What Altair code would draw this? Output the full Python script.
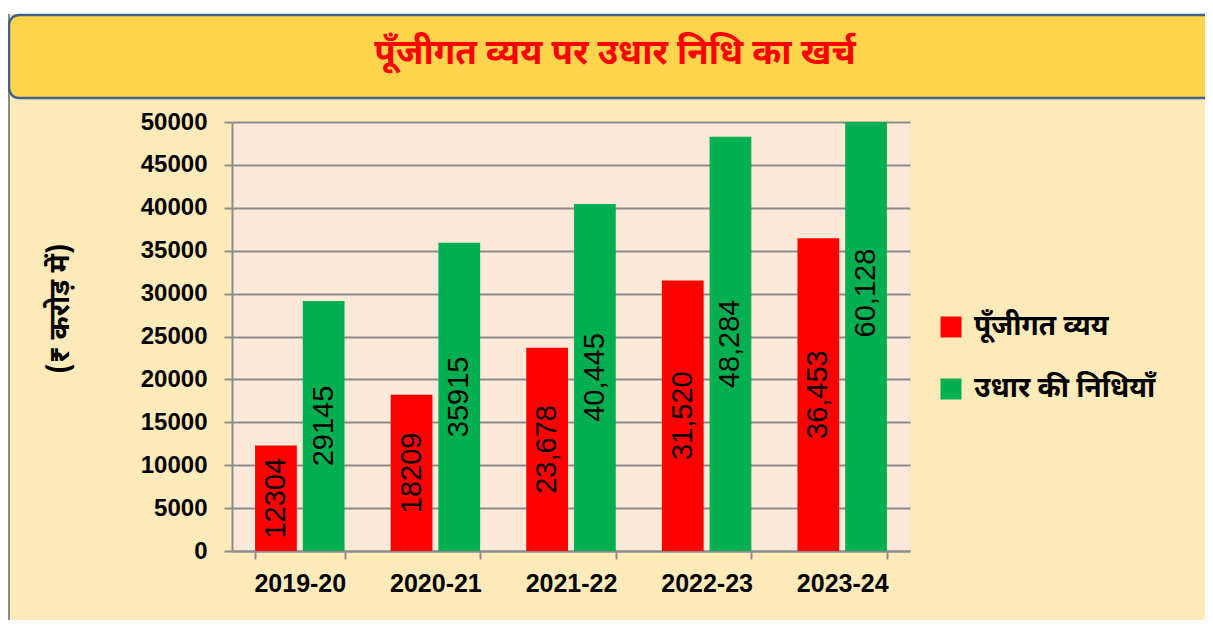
import altair as alt
import pandas as pd

years = ["2019-20", "2020-21", "2021-22", "2022-23", "2023-24"]
series_names = ["पूँजीगत व्यय", "उधार की निधियाँ"]
capex = [12304, 18209, 23678, 31520, 36453]
borrow = [29145, 35915, 40445, 48284, 60128]
capex_labels = ["12304", "18209", "23,678", "31,520", "36,453"]
borrow_labels = ["29145", "35915", "40,445", "48,284", "60,128"]
y_ticks = [0, 5000, 10000, 15000, 20000, 25000, 30000, 35000, 40000, 45000, 50000]
title_text = "पूँजीगत व्यय पर उधार निधि का खर्च"
y_title = "(₹ करोड़ में)"

rows = []
for i, yr in enumerate(years):
    rows.append({"year": yr, "series": series_names[0], "value": capex[i], "label": capex_labels[i]})
    rows.append({"year": yr, "series": series_names[1], "value": borrow[i], "label": borrow_labels[i]})
df = pd.DataFrame(rows)

W, H = 678, 429
PAD_L, PAD_T = 224, 114
TOTAL_W, TOTAL_H = 1197, 612

DEV = "Noto Sans Devanagari, Lohit Devanagari, FreeSans, Noto Sans, sans-serif"
LAT = "Liberation Sans, Arial, sans-serif"
GRAY = "#8C8C8C"

base = alt.Chart(df)

x_enc = alt.X("year:N", sort=years, title=None,
              scale=alt.Scale(paddingInner=0.34, paddingOuter=0.17),
              axis=alt.Axis(labelAngle=0, labelFont=LAT, labelFontSize=25, labelFontWeight="bold",
                            labelColor="#000000", labelPadding=12, tickSize=8, tickColor=GRAY,
                            tickWidth=2, domainColor=GRAY, domainWidth=2, tickBand="extent",
                            grid=False))
y_enc = alt.Y("value:Q", title=y_title,
              scale=alt.Scale(domain=[0, 50000], nice=False),
              axis=alt.Axis(values=y_ticks, format="d", labelFont=LAT, labelFontSize=24,
                            labelFontWeight="bold", labelColor="#000000", labelPadding=17,
                            tickSize=8, tickColor=GRAY, tickWidth=2, domainColor=GRAY,
                            domainWidth=2, grid=True, gridColor=GRAY, gridWidth=2,
                            titleFont=DEV, titleFontSize=28, titleFontWeight="bold",
                            titleColor="#000000", titleX=-172, titleY=186,
                            titleAlign="center", titleBaseline="middle", titleAngle=270))
xoff = alt.XOffset("series:N", sort=series_names, scale=alt.Scale(paddingInner=0.125, paddingOuter=0))
color = alt.Color("series:N", sort=series_names,
                  scale=alt.Scale(domain=series_names, range=["#FF0000", "#00B050"]),
                  legend=alt.Legend(title=None, orient="none", legendX=705, legendY=191,
                                    symbolType="square", symbolSize=441, symbolStrokeWidth=0,
                                    labelFont=DEV, labelFontSize=28, labelFontWeight="bold",
                                    labelColor="#000000", labelOffset=9, rowPadding=34,
                                    padding=0, labelLimit=400))

bars = base.mark_bar(clip=True).encode(x=x_enc, y=y_enc, xOffset=xoff, color=color)

labels = base.transform_calculate(mid="datum.value / 2").mark_text(
    angle=270, align="center", baseline="middle", font=LAT, fontSize=29, color="#000000"
).encode(
    x=alt.X("year:N", sort=years),
    xOffset=alt.XOffset("series:N", sort=series_names),
    y=alt.Y("mid:Q"),
    text="label:N",
)

deco_df = pd.DataFrame({"k": [0]})
deco = alt.Chart(deco_df)
white_strip = deco.mark_rect(color="white").encode(
    x=alt.value(-PAD_L), x2=alt.value(TOTAL_W), y=alt.value(-PAD_T), y2=alt.value(-108))
left_line = deco.mark_rule(color="#8A8A8A", strokeWidth=2).encode(
    x=alt.value(-PAD_L + 1), y=alt.value(-108), y2=alt.value(TOTAL_H))
title_box = deco.mark_rect(fill="#FFD44D", stroke="#41608A", strokeWidth=2.5, cornerRadius=10).encode(
    x=alt.value(-PAD_L + 1), x2=alt.value(1000), y=alt.value(-107), y2=alt.value(-24))
title = deco.mark_text(font=DEV, fontSize=35, fontWeight="bold", color="#FF0000",
                       align="center", baseline="middle").encode(
    x=alt.value(383), y=alt.value(-69), text=alt.value(title_text))

chart = alt.layer(white_strip, left_line, title_box, title, bars, labels).properties(
    width=W, height=H,
    padding={"left": PAD_L, "top": PAD_T, "right": TOTAL_W - PAD_L - W, "bottom": TOTAL_H - PAD_T - H},
    autosize=alt.AutoSizeParams(type="none"),
    background="#FFEBBA",
).configure_view(fill="#FDE9DA", stroke=None)

chart.save("out.html", embed_options={"renderer": "svg", "actions": False})
